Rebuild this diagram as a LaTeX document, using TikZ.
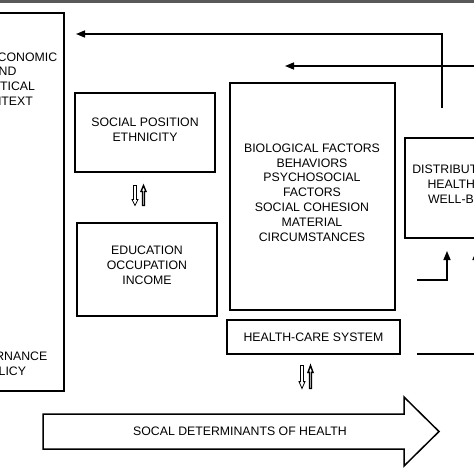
\documentclass[tikz,border=0pt]{standalone}
\usepackage{fontspec}
\setmainfont{Liberation Sans}
\usetikzlibrary{arrows.meta}

\tikzset{
  box/.style={draw, line width=1.5pt, inner sep=0pt},
  txt/.style={align=center, inner sep=0pt, font=\fontsize{12.3}{14.8}\selectfont},
  feedback/.style={line width=1.5pt, -{Triangle[length=9pt,width=7pt]}},
  swaparrows/.pic={
    \draw[line width=0.8pt, fill=white] (-5.5,-10) -- (-2.5,-10) -- (-2.5,4) -- (-1,4) -- (-4,10) -- (-7,4) -- (-5.5,4) -- cycle;
    \draw[line width=1.4pt, fill=white] (3.5,10) -- (5.5,10) -- (5.5,-4) -- (7,-4) -- (4.5,-10) -- (2,-4) -- (3.5,-4) -- cycle;
  }
}

\begin{document}
\begin{tikzpicture}[x=1pt,y=-1pt]
    \clip (0,0) rectangle (474,474);
    \fill[white] (0,0) rectangle (474,474);
    \fill[black!65] (0,0) rectangle (474,2.5);

    % boxes
    \node[box, minimum width=112pt, minimum height=378pt] (context) at (8,202) {};
    \node[txt] (contexttop) at (3.5,79) {SOCIOECONOMIC\\AND\\POLITICAL\\CONTEXT};
    \node[txt] (contextbot) at (3.5,363.5) {GOVERNANCE\\POLICY};

    \node[box, minimum width=140pt, minimum height=79pt] (social) at (145,132.5) {};
    \node[txt] (socialtext) at (145,130) {SOCIAL POSITION\\ETHNICITY};

    \node[box, minimum width=140pt, minimum height=93pt] (edu) at (147,269.5) {};
    \node[txt] (edutext) at (147,265) {EDUCATION\\OCCUPATION\\INCOME};

    \node[box, minimum width=165pt, minimum height=227pt] (bio) at (312.5,196.5) {};
    \node[txt] (biotext) at (312,192.5) {BIOLOGICAL FACTORS\\BEHAVIORS\\PSYCHOSOCIAL\\FACTORS\\SOCIAL COHESION\\MATERIAL\\CIRCUMSTANCES};

    \node[box, txt, minimum width=173pt, minimum height=34pt] (hcs) at (313.5,337) {HEALTH-CARE SYSTEM};

    \node[box, minimum width=118pt, minimum height=100pt] (dist) at (464,188) {};
    \node[txt] (disttext) at (466,184) {DISTRIBUTION OF\\HEALTH AND\\WELL-BEING};

    % big arrow
    \draw[line width=1.5pt] (43,414) -- (404,414) -- (404,397) -- (439,431.5) -- (404,466) -- (404,449) -- (43,449) -- cycle;
    \node[txt] (sdh) at (240,431.5) {SOCAL DETERMINANTS OF HEALTH};

    % two-way arrows
    \pic at (139,195.5) {swaparrows};
    \pic[yscale=1.15] at (306,377) {swaparrows};

    % feedback lines
    \coordinate (fbAstart) at (442,108);
    \coordinate (fbAend) at (76,34);
    \draw[feedback] (fbAstart) |- (fbAend);
    \coordinate (fbBstart) at (480,66);
    \coordinate (fbBend) at (285,66);
    \draw[feedback] (fbBstart) -- (fbBend);

    \coordinate (upAstart) at (417,280);
    \coordinate (upAend) at (447,251);
    \draw[feedback] (upAstart) -| (upAend);
    \coordinate (upBstart) at (417,354);
    \coordinate (upBend) at (476,251);
    \draw[feedback] (upBstart) -| (upBend);
\end{tikzpicture}
\end{document}
